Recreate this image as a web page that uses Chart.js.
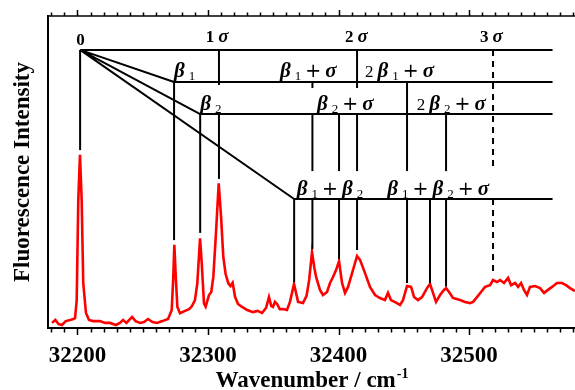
<!DOCTYPE html>
<html>
<head>
<meta charset="utf-8">
<script src="https://cdn.jsdelivr.net/npm/chart.js@4.4.1/dist/chart.umd.min.js"></script>
<style>
  body { margin: 0; background: #fff; }
  #wrap { width: 575px; height: 390px; }
</style>
</head>
<body>
<div id="wrap"><canvas id="chart"></canvas></div>
<script>
// spectrum (wavenumber in cm-1, intensity in arb. units)
const wavenumber = [
  32180.5, 32183.0, 32185.5, 32188.1, 32191.0, 32194.5, 32196.8, 32198.1, 32199.4, 32200.6,
  32201.9, 32203.2, 32204.4, 32206.5, 32208.8, 32212.0, 32217.2, 32221.0, 32224.9, 32229.5,
  32232.5, 32234.9, 32237.5, 32241.8, 32244.5, 32247.9, 32251.0, 32254.0, 32257.5, 32260.9,
  32265.0, 32269.4, 32272.2, 32273.4, 32274.2, 32275.3, 32276.5, 32278.5, 32282.4, 32285.5,
  32287.7, 32290.0, 32291.8, 32293.9, 32295.2, 32296.9, 32298.2, 32300.8, 32302.5, 32304.1,
  32306.1, 32308.2, 32310.0, 32311.7, 32313.5, 32315.6, 32317.2, 32318.9, 32320.7, 32323.0,
  32325.8, 32330.0, 32334.5, 32338.0, 32341.4, 32344.5, 32346.7, 32348.5, 32349.8, 32351.3,
  32352.9, 32355.0, 32357.5, 32360.5, 32362.8, 32365.9, 32369.0, 32372.8, 32375.5, 32377.5,
  32379.7, 32381.5, 32382.8, 32385.8, 32388.1, 32391.2, 32393.5, 32395.8, 32398.1, 32400.4,
  32402.7, 32405.0, 32407.3, 32410.4, 32414.2, 32416.5, 32420.3, 32424.1, 32428.0, 32431.8,
  32435.6, 32437.9, 32440.2, 32444.8, 32447.1, 32449.4, 32452.5, 32455.6, 32457.9, 32460.9,
  32464.0, 32467.8, 32470.1, 32472.4, 32474.7, 32477.8, 32480.8, 32482.4, 32484.7, 32487.7,
  32493.1, 32496.9, 32500.8, 32503.1, 32506.1, 32509.2, 32512.3, 32516.1, 32518.4, 32521.5,
  32523.8, 32526.8, 32529.9, 32532.2, 32535.3, 32537.6, 32539.9, 32542.1, 32544.4, 32546.7,
  32550.6, 32554.4, 32557.5, 32560.5, 32563.6, 32567.4, 32571.3, 32574.3, 32577.4, 32581.2
];
const intensity = [
  1.7, 2.7, 1.3, 1.0, 2.3, 2.7, 3.0, 3.3, 9.3, 42.7,
  57.7, 42.7, 15.0, 5.0, 2.7, 2.3, 2.3, 1.7, 1.7, 1.0,
  1.7, 2.7, 1.7, 3.7, 2.3, 1.7, 2.0, 3.0, 2.0, 1.7,
  2.3, 3.0, 6.0, 17.1, 27.7, 17.1, 7.1, 4.9, 5.7, 6.3,
  7.3, 9.3, 14.9, 29.9, 21.6, 8.2, 7.1, 11.0, 12.0, 17.1,
  31.6, 48.2, 37.1, 23.8, 18.0, 14.9, 14.0, 15.1, 10.4, 8.0,
  7.1, 6.0, 5.3, 5.7, 5.0, 6.7, 10.3, 7.3, 7.0, 8.7,
  8.0, 6.3, 6.3, 6.0, 8.7, 14.7, 8.7, 8.3, 10.7, 16.0,
  25.3, 20.0, 17.0, 12.7, 11.0, 12.0, 15.0, 17.0, 19.3, 22.3,
  15.0, 11.7, 13.7, 18.3, 24.0, 22.7, 18.3, 13.7, 11.0, 10.0,
  9.3, 11.7, 9.3, 8.3, 7.7, 9.3, 14.0, 13.7, 10.3, 9.3,
  10.3, 13.3, 14.7, 11.7, 8.7, 11.0, 12.7, 13.3, 12.0, 10.0,
  9.3, 8.7, 8.3, 8.7, 10.3, 12.0, 13.7, 14.3, 16.0, 15.3,
  16.0, 15.0, 16.7, 14.3, 15.0, 13.7, 15.0, 12.7, 11.0, 13.7,
  14.0, 13.3, 11.7, 12.7, 13.7, 15.0, 15.0, 14.3, 13.3, 12.3
];

const xMin = 32177.4, xMax = 32581.2;
const xTicks = [32200, 32300, 32400, 32500];

// assignment tree: horizontal levels (σ, β1, β2, β1+β2 progressions)
const origin = 32202;
const tierY = [92.7, 82, 71.3, 43];
const tierStart = [32202, 32274, 32294, 32366];
const tierEnd = 32564;

// vertical sticks: [wavenumber, from, to, dashed]
const sticks = [
  [32202, 92.7, 59.3, false],
  [32274, 82, 29.3, false],
  [32294, 71.3, 31.7, false],
  [32308.4, 92.7, 81, false], [32308.4, 71.3, 49.7, false],
  [32366, 43, 15.3, false],
  [32380, 82, 80, false], [32380, 71.3, 52.3, false], [32380, 43, 26.3, false],
  [32400.4, 71.3, 52.3, false], [32400.4, 43, 23, false],
  [32414.2, 92.7, 80, false], [32414.2, 71.3, 52.3, false], [32414.2, 43, 26, false],
  [32452.5, 82, 52.3, false], [32452.5, 43, 15, false],
  [32470.1, 43, 15, false],
  [32482.4, 71.3, 52.3, false], [32482.4, 43, 13.8, false],
  [32518.4, 92.7, 52.3, true], [32518.4, 43, 17.7, true]
];

// labels: x, baseline y, align, text runs
const labels = [
  [32202.3, 94.3, 'center', [['0', 'num']]],
  [32298.2, 95.3, 'left', [['1', 'num'], ['σ', 'top']]],
  [32405, 95.3, 'left', [['2', 'num'], ['σ', 'top']]],
  [32508.4, 95.3, 'left', [['3', 'num'], ['σ', 'top']]],
  [32274, 83.8, 'left', [['β', 'gk'], ['1', 'sub']]],
  [32355.2, 83.8, 'left', [['β', 'gk'], ['1', 'sub'], ['+', 'plus'], ['σ', 'gk']]],
  [32420.3, 83.8, 'left', [['2', 'pre'], ['β', 'gk'], ['1', 'sub'], ['+', 'plus'], ['σ', 'gk']]],
  [32294, 72.7, 'left', [['β', 'gk'], ['2', 'sub']]],
  [32383.5, 72.7, 'left', [['β', 'gk'], ['2', 'sub'], ['+', 'plus'], ['σ', 'gk']]],
  [32460, 72.7, 'left', [['2', 'pre'], ['β', 'gk'], ['2', 'sub'], ['+', 'plus'], ['σ', 'gk']]],
  [32368, 44.3, 'left', [['β', 'gk'], ['1', 'sub'], ['+', 'plus'], ['β', 'gk'], ['2', 'sub']]],
  [32437.4, 44.3, 'left', [['β', 'gk'], ['1', 'sub'], ['+', 'plus'], ['β', 'gk'], ['2', 'sub'], ['+', 'plus'], ['σ', 'gk']]]
];

const fonts = {
  num: 'bold 17px "Liberation Serif"',
  pre: '17px "Liberation Serif"',
  gk: 'italic bold 21px "Liberation Serif"',
  top: 'italic bold 19px "Liberation Serif"',
  plus: '19px "DejaVu Sans"',
  sub: '13px "Liberation Serif"'
};

function drawRuns(ctx, runs, x, y, align) {
  const gap = 4;
  let w = -gap;
  runs.forEach(([t, f]) => { ctx.font = fonts[f]; w += ctx.measureText(t).width + gap; });
  let cx = align === 'center' ? x - w / 2 : x;
  runs.forEach(([t, f]) => {
    ctx.font = fonts[f];
    ctx.fillText(t, cx, f === 'sub' ? y + 3 : y);
    cx += ctx.measureText(t).width + gap;
  });
}

const treePlugin = {
  id: 'tree',
  afterDatasetsDraw(chart) {
    const { ctx, chartArea: a, scales: { x, y } } = chart;
    ctx.save();
    ctx.strokeStyle = '#000';
    ctx.fillStyle = '#000';
    ctx.lineCap = 'butt';

    // top frame line + minor/major ticks on top and bottom
    ctx.lineWidth = 1.5;
    ctx.beginPath();
    ctx.moveTo(a.left - 1, a.top);
    ctx.lineTo(a.right, a.top);
    ctx.stroke();
    for (let v = Math.ceil(xMin / 10) * 10; v <= xMax; v += 10) {
      const px = Math.round(x.getPixelForValue(v)) + 0.5;
      const major = v % 100 === 0;
      ctx.beginPath();
      ctx.moveTo(px, a.top);
      ctx.lineTo(px, a.top - (major ? 6 : 3.5));
      ctx.moveTo(px, a.bottom);
      ctx.lineTo(px, a.bottom + (major ? 7 : 4.5));
      ctx.stroke();
    }

    // assignment tree
    ctx.lineWidth = 2;
    const ox = x.getPixelForValue(origin), oy = y.getPixelForValue(tierY[0]);
    ctx.beginPath();
    tierY.forEach((ty, i) => {
      const py = y.getPixelForValue(ty);
      ctx.moveTo(x.getPixelForValue(tierStart[i]), py);
      ctx.lineTo(x.getPixelForValue(tierEnd), py);
      if (i > 0) {
        ctx.moveTo(ox, oy);
        ctx.lineTo(x.getPixelForValue(tierStart[i]), py);
      }
    });
    ctx.stroke();

    sticks.forEach(([v, from, to, dashed]) => {
      const px = x.getPixelForValue(v);
      ctx.setLineDash(dashed ? [6, 5] : []);
      ctx.beginPath();
      ctx.moveTo(px, y.getPixelForValue(from));
      ctx.lineTo(px, y.getPixelForValue(to));
      ctx.stroke();
    });
    ctx.setLineDash([]);

    ctx.textBaseline = 'alphabetic';
    ctx.textAlign = 'left';
    labels.forEach(([v, ly, align, runs]) => {
      drawRuns(ctx, runs, x.getPixelForValue(v), y.getPixelForValue(ly), align);
    });

    // x axis title with superscript
    const main = 'Wavenumber / cm', sup = '-1';
    ctx.font = 'bold 23px "Liberation Serif"';
    const w1 = ctx.measureText(main).width;
    ctx.font = 'bold 14px "Liberation Serif"';
    const w2 = ctx.measureText(sup).width;
    const tx = (a.left + a.right) / 2 - (w1 + w2) / 2;
    ctx.font = 'bold 23px "Liberation Serif"';
    ctx.fillText(main, tx, 387);
    ctx.font = 'bold 14px "Liberation Serif"';
    ctx.fillText(sup, tx + w1 + 1, 378);
    ctx.restore();
  }
};

new Chart(document.getElementById('chart'), {
  type: 'line',
  data: {
    datasets: [{
      data: wavenumber.map((w, i) => ({ x: w, y: intensity[i] })),
      borderColor: '#ff0000',
      borderWidth: 2.6,
      pointRadius: 0,
      fill: false,
      tension: 0
    }]
  },
  options: {
    responsive: true,
    maintainAspectRatio: false,
    animation: false,
    layout: { padding: { top: 16, right: 0, left: 0, bottom: 0 } },
    plugins: { legend: { display: false }, tooltip: { enabled: false } },
    scales: {
      x: {
        type: 'linear',
        min: xMin,
        max: xMax,
        afterBuildTicks: s => { s.ticks = xTicks.map(v => ({ value: v })); },
        afterFit: s => { s.height = 62; },
        grid: { display: false, drawTicks: false },
        border: { display: true, color: '#000', width: 2 },
        ticks: {
          color: '#000',
          padding: 14,
          maxRotation: 0,
          font: { family: '"Liberation Serif"', size: 23, weight: 'bold' },
          callback: v => String(v)
        }
      },
      y: {
        min: 0,
        max: 104,
        afterFit: s => { s.width = 48; },
        grid: { display: false, drawTicks: false },
        border: { display: true, color: '#000', width: 2 },
        ticks: { display: false },
        title: {
          display: true,
          text: 'Fluorescence Intensity',
          color: '#000',
          padding: { top: 9, bottom: 0 },
          font: { family: '"Liberation Serif"', size: 23, weight: 'bold' }
        }
      }
    }
  },
  plugins: [treePlugin]
});
</script>
</body>
</html>
